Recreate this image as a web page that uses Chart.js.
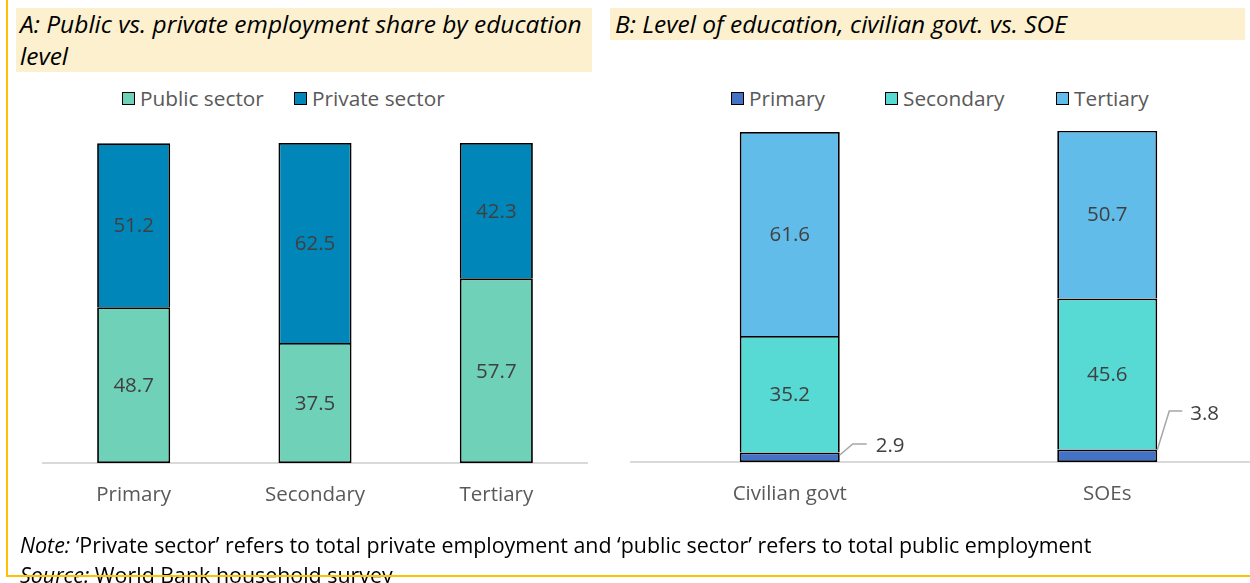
<!DOCTYPE html>
<html>
<head>
<meta charset="utf-8">
<script src="https://cdn.jsdelivr.net/npm/chart.js@4.4.1/dist/chart.umd.min.js"></script>
<style>
  html, body { margin: 0; padding: 0; width: 1250px; height: 583px; overflow: hidden; background: #fff; }
  .title { position: absolute; background: #FDF0CE; font-family: 'Open Sans', sans-serif; font-style: italic;
           font-size: 24.5px; color: #000; line-height: 32px; box-sizing: border-box; white-space: nowrap; }
  #titleA { left: 16px; top: 8px; width: 576px; height: 64px; padding-left: 4px; }
  #titleB { left: 610px; top: 8px; width: 635px; height: 32px; padding-left: 5px; }
  .leg { position: absolute; top: 85px; font-family: 'Open Sans', sans-serif; font-size: 20.8px; color: #595959;
         line-height: 26px; white-space: nowrap; }
  .sw { position: absolute; top: 92px; width: 11px; height: 11px; border: 1.5px solid #000; }
  canvas { position: absolute; top: 0; }
  #chartA { left: 0; }
  #chartB { left: 620px; }
  .foot { position: absolute; left: 20px; font-family: 'Open Sans', sans-serif; font-size: 21.4px; color: #000;
          white-space: nowrap; line-height: 26px; }
  #frame { position: absolute; left: 6px; top: -10px; width: 1260px; height: 587px; box-sizing: border-box;
           border-left: 2px solid #FFC000; border-bottom: 2px solid #FFC000; pointer-events: none; }
</style>
</head>
<body>
<div class="title" id="titleA">A: Public vs. private employment share by education<br>level</div>
<div class="title" id="titleB">B: Level of education, civilian govt. vs. SOE</div>

<div class="sw" style="left:122px;background:#6FD1B7"></div><div class="leg" style="left:140px">Public sector</div>
<div class="sw" style="left:294px;background:#0086B8"></div><div class="leg" style="left:312px">Private sector</div>
<div class="sw" style="left:731px;background:#4472C4"></div><div class="leg" style="left:749px">Primary</div>
<div class="sw" style="left:885px;background:#57D9D4"></div><div class="leg" style="left:903px">Secondary</div>
<div class="sw" style="left:1056px;background:#62BCEA"></div><div class="leg" style="left:1074px">Tertiary</div>

<canvas id="chartA" width="620" height="583"></canvas>
<canvas id="chartB" width="660" height="583"></canvas>

<div class="foot" style="top:532px"><i>Note:</i> ‘Private sector’ refers to total private employment and ‘public sector’ refers to total public employment</div>
<div class="foot" style="top:562px"><i>Source:</i> World Bank household survey</div>
<div id="frame"></div>

<script>
// Panel A: employment share by education level (%)
const educationLevels = ['Primary', 'Secondary', 'Tertiary'];
const publicShare  = [48.7, 37.5, 57.7];
const privateShare = [51.2, 62.5, 42.3];

// Panel B: education mix of civilian government vs. state-owned enterprises (%)
const employers = ['Civilian govt', 'SOEs'];
const primaryEd   = [2.9, 3.8];
const secondaryEd = [35.2, 45.6];
const tertiaryEd  = [61.6, 50.7];

const TEXT_FONT = "'Open Sans', sans-serif";

// Writes each segment's value in its middle; thin segments get a leader line
// and the label is placed beside the bar instead.
const valueLabels = {
  id: 'valueLabels',
  afterDatasetsDraw(chart, args, opts) {
    const ctx = chart.ctx;
    const callouts = opts.callouts || {};
    chart.data.datasets.forEach((ds, di) => {
      const meta = chart.getDatasetMeta(di);
      meta.data.forEach((bar, i) => {
        const txt = ds.data[i].toFixed(1);
        ctx.save();
        ctx.font = '20.5px ' + TEXT_FONT;
        ctx.fillStyle = '#404040';
        const c = callouts[di] && callouts[di][i];
        if (c) {
          const right = bar.x + bar.width / 2;
          ctx.strokeStyle = '#A6A6A6';
          ctx.lineWidth = 1.5;
          ctx.beginPath();
          ctx.moveTo(right, bar.base + c.startDy);
          ctx.lineTo(right + c.elbowDx, bar.base + c.elbowDy);
          ctx.lineTo(right + c.endDx, bar.base + c.elbowDy);
          ctx.stroke();
          ctx.textAlign = 'left';
          ctx.textBaseline = 'middle';
          ctx.fillText(txt, right + c.textDx, bar.base + c.textDy);
        } else {
          ctx.textAlign = 'center';
          ctx.textBaseline = 'middle';
          ctx.fillText(txt, bar.x, (bar.y + bar.base) / 2 + 1);
        }
        ctx.restore();
      });
    });
  }
};

function stackedOptions(pad, catPct, callouts) {
  return {
    responsive: false,
    animation: false,
    layout: { padding: pad },
    plugins: { legend: { display: false }, tooltip: { enabled: false }, valueLabels: { callouts } },
    scales: {
      x: {
        stacked: true,
        grid: { display: false },
        border: { display: true, color: '#D9D9D9', width: 2 },
        ticks: { color: '#595959', font: { family: TEXT_FONT, size: 20.5 }, padding: 12, maxRotation: 0 },
        afterFit(scale) { scale.height = 50; }
      },
      y: { stacked: true, display: false, min: 0, max: 100 }
    },
    datasets: { bar: { barPercentage: 1, categoryPercentage: catPct, borderColor: '#000', borderWidth: 1.8 } }
  };
}

// The lowest segment keeps its full outline; the ones stacked on it skip their
// bottom edge so each seam is a single line.
new Chart(document.getElementById('chartA'), {
  type: 'bar',
  data: {
    labels: educationLevels,
    datasets: [
      { label: 'Public sector',  data: publicShare,  backgroundColor: '#6FD1B7', borderSkipped: false },
      { label: 'Private sector', data: privateShare, backgroundColor: '#0086B8', borderSkipped: 'bottom' }
    ]
  },
  options: stackedOptions({ left: 43, right: 33, top: 143, bottom: 70 }, 0.403, {}),
  plugins: [valueLabels]
});

new Chart(document.getElementById('chartB'), {
  type: 'bar',
  data: {
    labels: employers,
    datasets: [
      { label: 'Primary',   data: primaryEd,   backgroundColor: '#4472C4', borderSkipped: false },
      { label: 'Secondary', data: secondaryEd, backgroundColor: '#57D9D4', borderSkipped: 'bottom' },
      { label: 'Tertiary',  data: tertiaryEd,  backgroundColor: '#62BCEA', borderSkipped: 'bottom' }
    ]
  },
  options: stackedOptions({ left: 11, right: 14, top: 131, bottom: 71 }, 0.315, {
    0: [
      { startDy: -7,  elbowDx: 13, elbowDy: -18, endDx: 27, textDx: 36, textDy: -16 },
      { startDy: -12, elbowDx: 12, elbowDy: -51, endDx: 25, textDx: 33, textDy: -48 }
    ]
  }),
  plugins: [valueLabels]
});
</script>
</body>
</html>
